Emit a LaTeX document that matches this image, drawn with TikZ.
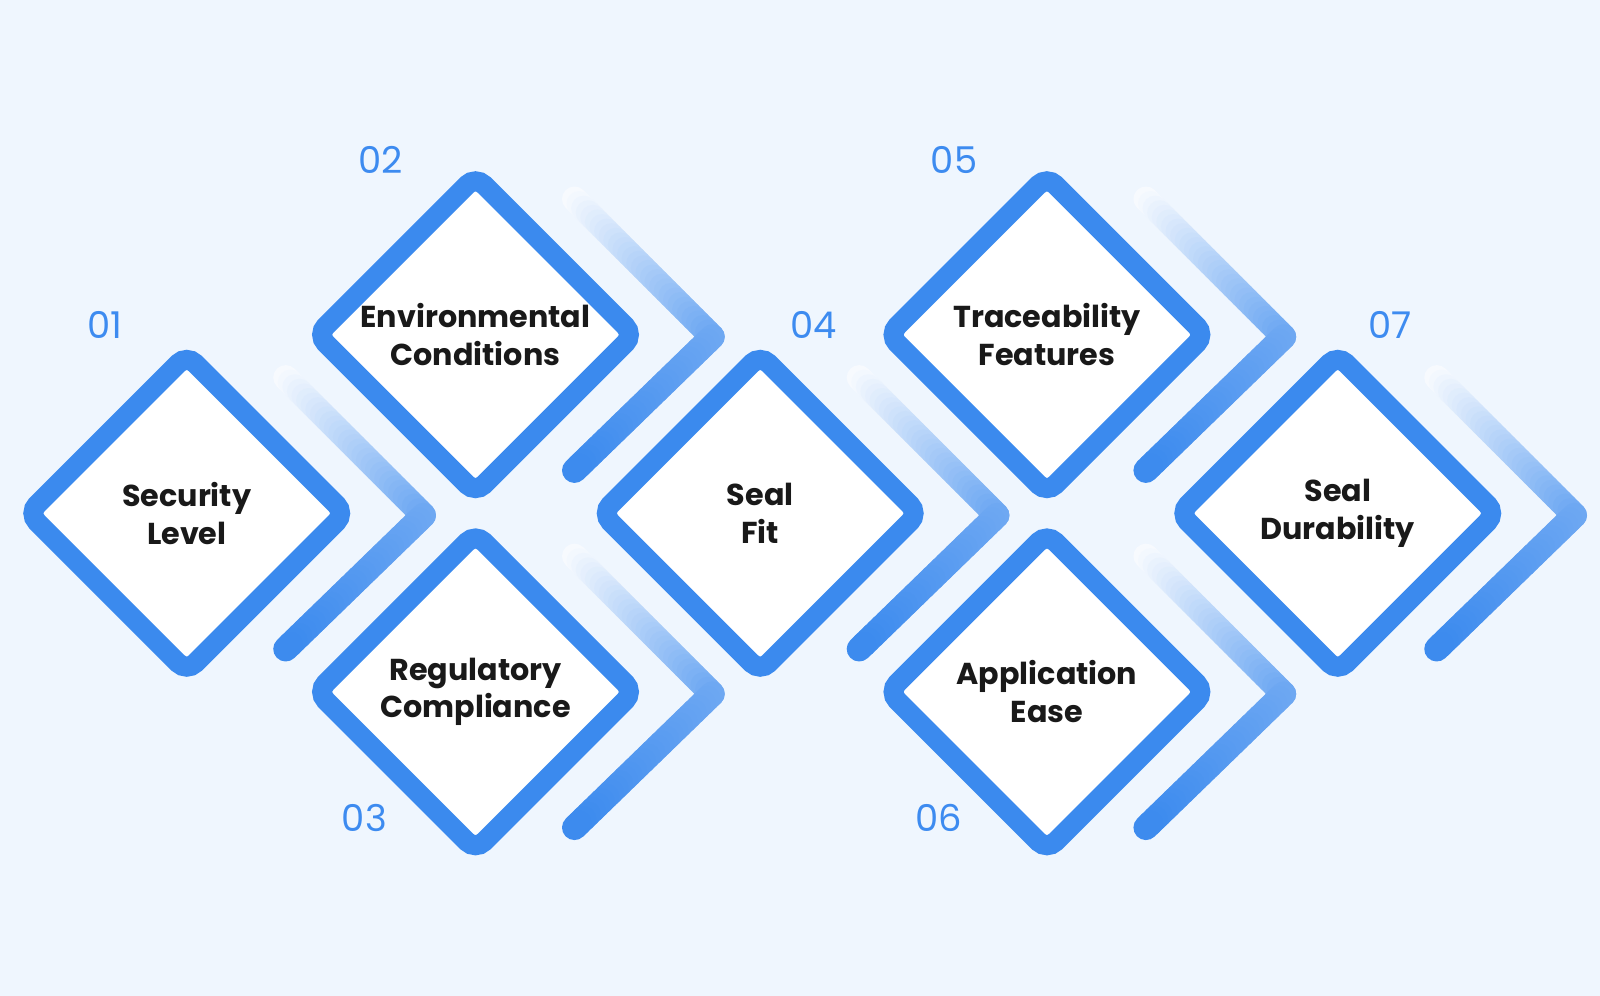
\documentclass[tikz,border=0pt]{standalone}
\usepackage{fontspec}
\setmainfont{Poppins}
\usetikzlibrary{shadows}
\definecolor{bgblue}{HTML}{EFF6FE}
\definecolor{mainblue}{HTML}{3B8AEE}
\definecolor{numblue}{HTML}{3D8BF0}
\tikzset{
  diamondbox/.style={shape=rectangle, rotate=45, minimum size=2.24cm, inner sep=0pt,
    draw=mainblue, line width=0.2cm, rounded corners=0.12cm, fill=white,
    drop shadow={shadow xshift=0.04cm, shadow yshift=-0.06cm, opacity=0.18}},
  itemtext/.style={align=center, font=\fontsize{8.6}{10.8}\selectfont\bfseries, text=black!90},
  numtext/.style={font=\fontsize{10.5}{12}\selectfont, text=numblue}
}
% chevron with a white-to-blue fade
\newcommand{\chevron}[2]{%
  \foreach \i in {0,...,29}{
    \pgfmathsetmacro{\ta}{\i/30}
    \pgfmathsetmacro{\tb}{(\i+1)/30}
    \pgfmathsetmacro{\pc}{4+70*\ta}
    \draw[line width=0.25cm, line cap=round, draw=mainblue!\pc!white]
      ({#1+97+135*\ta},{#2-133+135*\ta}) -- ({#1+97+135*\tb},{#2-133+135*\tb});
  }
  \foreach \i in {0,...,29}{
    \pgfmathsetmacro{\ta}{\i/30}
    \pgfmathsetmacro{\tb}{(\i+1)/30}
    \pgfmathsetmacro{\pc}{74+26*\ta}
    \draw[line width=0.25cm, line cap=round, draw=mainblue!\pc!white]
      ({#1+232-135*\ta},{#2+2+131*\ta}) -- ({#1+232-135*\tb},{#2+2+131*\tb});
  }
}
\begin{document}
\begin{tikzpicture}[x=0.010204cm, y=-0.010204cm]
  \fill[bgblue] (0,0) rectangle (1568,976);
  \useasboundingbox (0,0) rectangle (1568,976);
  % chevrons
  \chevron{183}{503}
  \chevron{466}{328}
  \chevron{466}{678}
  \chevron{745}{503}
  \chevron{1026}{328}
  \chevron{1026}{678}
  \chevron{1311}{503}
  % diamonds
  \node[diamondbox] (d1) at (183,503) {};
  \node[diamondbox] (d2) at (466,328) {};
  \node[diamondbox] (d3) at (466,678) {};
  \node[diamondbox] (d4) at (745,503) {};
  \node[diamondbox] (d5) at (1026,328) {};
  \node[diamondbox] (d6) at (1026,678) {};
  \node[diamondbox] (d7) at (1311,503) {};
  % labels
  \node[itemtext] (t1) at (d1) {Security\\Level};
  \node[itemtext] (t2) at (d2) {Environmental\\Conditions};
  \node[itemtext] (t3) at (d3) {Regulatory\\Compliance};
  \node[itemtext] (t4) at (d4) {Seal\\Fit};
  \node[itemtext] (t5) at (d5) {Traceability\\Features};
  \node[itemtext] (t6) at (d6) {Application\\Ease};
  \node[itemtext] (t7) at (d7) {Seal\\Durability};
  % numbers
  \node[numtext] (n1) at (103,318) {01};
  \node[numtext] (n2) at (373,157) {02};
  \node[numtext] (n3) at (357,802) {03};
  \node[numtext] (n4) at (797,318) {04};
  \node[numtext] (n5) at (935,157) {05};
  \node[numtext] (n6) at (920,802) {06};
  \node[numtext] (n7) at (1362,318) {07};
\end{tikzpicture}
\end{document}
